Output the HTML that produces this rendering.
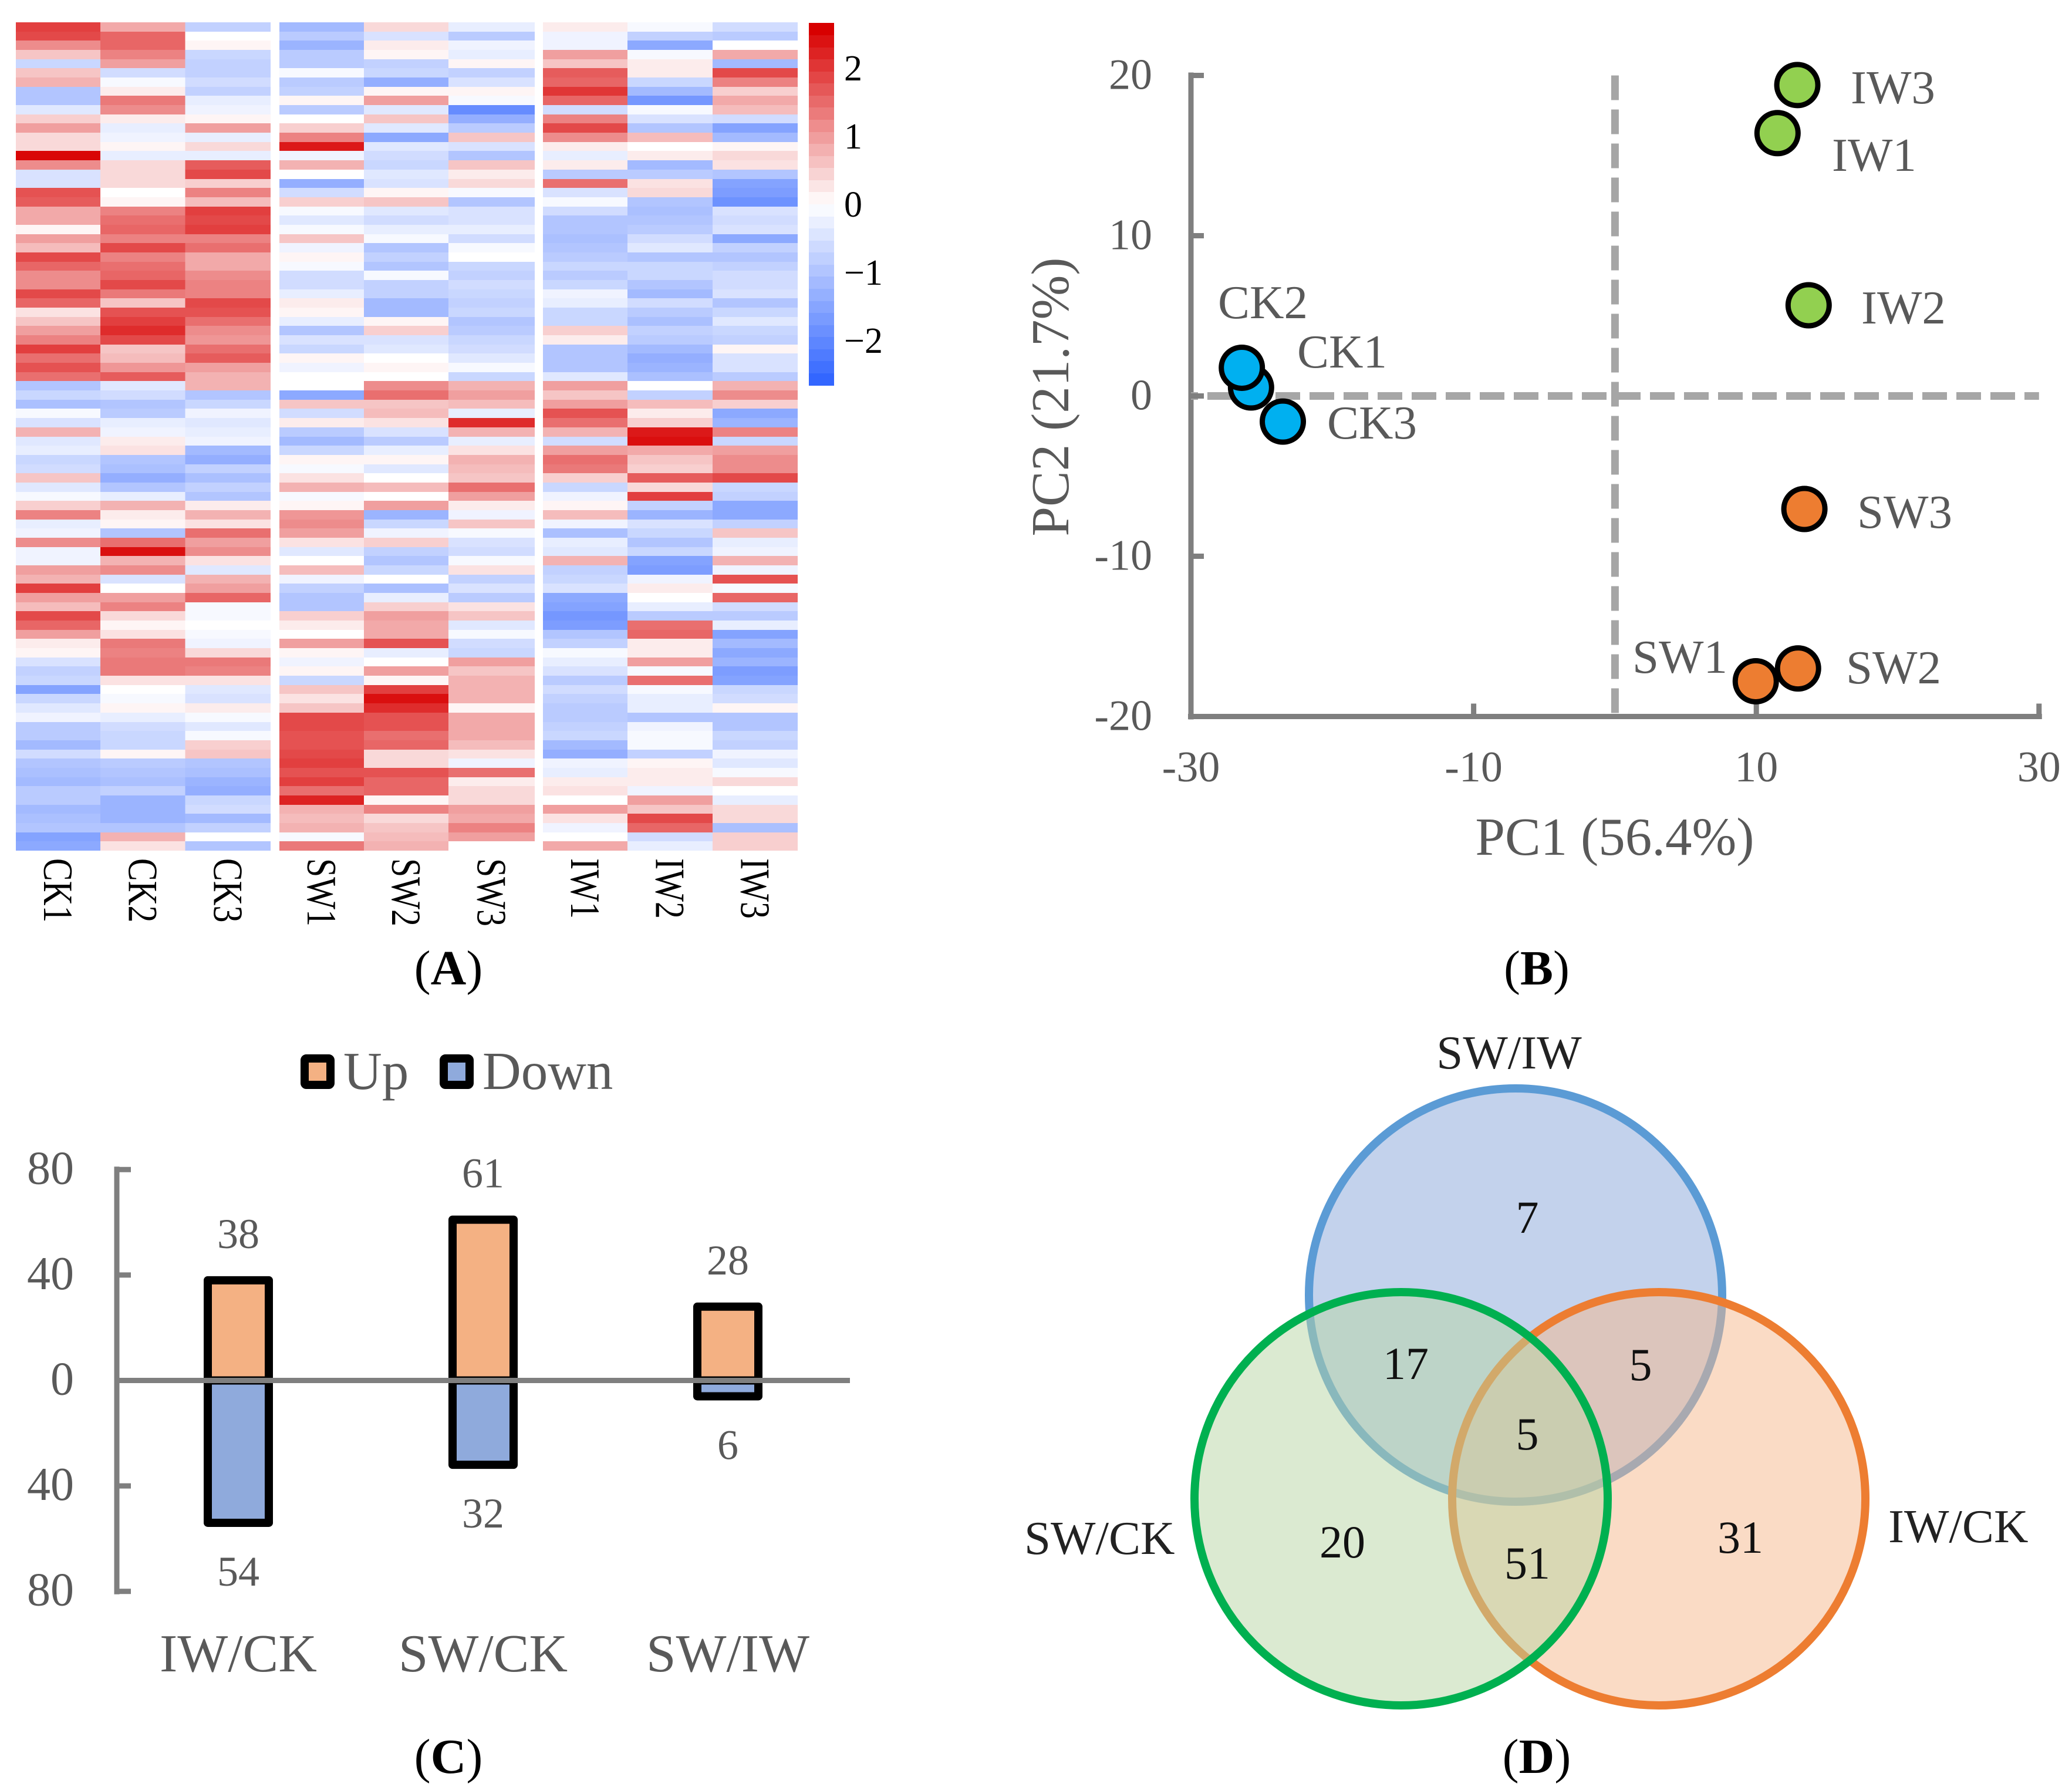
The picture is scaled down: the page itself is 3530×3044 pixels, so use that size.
<!DOCTYPE html>
<html lang="en">
<head>
<meta charset="utf-8">
<title>Multi-panel figure</title>
<style>
html,body{margin:0;padding:0;background:#fff;}
svg{display:block;font-family:"Liberation Serif",serif;}
</style>
</head>
<body>
<svg id="fig" xmlns="http://www.w3.org/2000/svg" width="3530" height="3044" viewBox="0 0 3530 3044">
<rect width="3530" height="3044" fill="#fff"/>
<g id="panelA"></g>
<text x="764" y="1677" font-size="84" text-anchor="middle" fill="#000">(<tspan font-weight="bold">A</tspan>)</text>

<g id="panelB"></g>
<g font-size="81" fill="#595959">
<text x="3153" y="176">IW3</text>
<text x="3121" y="291">IW1</text>
<text x="3171" y="551">IW2</text>
<text x="3164" y="899">SW3</text>
<text x="3145" y="1164">SW2</text>
<text x="2781" y="1146">SW1</text>
<text x="2075" y="542">CK2</text>
<text x="2210" y="626">CK1</text>
<text x="2261" y="747">CK3</text>
</g>
<text x="2751" y="1456" font-size="91" text-anchor="middle" fill="#595959">PC1 (56.4%)</text>
<text transform="translate(1820,676) rotate(-90)" font-size="91" text-anchor="middle" fill="#595959">PC2 (21.7%)</text>
<text x="2618" y="1677" font-size="84" text-anchor="middle" fill="#000">(<tspan font-weight="bold">B</tspan>)</text>

<g id="panelC"></g>
<g>
<rect x="519" y="1803" width="44" height="45" fill="#f4b183" stroke="#000" stroke-width="14" rx="3"/>
<text x="585" y="1855" font-size="91" fill="#595959">Up</text>
<rect x="756" y="1803" width="44" height="45" fill="#8faadc" stroke="#000" stroke-width="14" rx="3"/>
<text x="822" y="1855" font-size="91" fill="#595959">Down</text>
</g>
<text x="764" y="3020" font-size="84" text-anchor="middle" fill="#000">(<tspan font-weight="bold">C</tspan>)</text>

<g>
<circle cx="2582" cy="2206" r="352" fill="#c3d2ec" fill-opacity="1" stroke="#5b9bd5" stroke-width="14"/>
<circle cx="2826" cy="2553" r="352" fill="#f5b78b" fill-opacity="0.5" stroke="#ed7d31" stroke-width="14"/>
<circle cx="2387" cy="2553" r="352" fill="#b7d5a3" fill-opacity="0.5" stroke="#00b050" stroke-width="14"/>
<g font-size="78" text-anchor="middle" fill="#111">
<text x="2602" y="2100">7</text>
<text x="2395" y="2349">17</text>
<text x="2795" y="2351">5</text>
<text x="2602" y="2469">5</text>
<text x="2287" y="2653">20</text>
<text x="2602" y="2689">51</text>
<text x="2965" y="2645">31</text>
</g>
<text x="2571" y="1820" font-size="81" text-anchor="middle" fill="#222">SW/IW</text>
<text x="1745" y="2647" font-size="81" fill="#222">SW/CK</text>
<text x="3217" y="2627" font-size="81" fill="#222">IW/CK</text>
</g>
<text x="2618" y="3020" font-size="84" text-anchor="middle" fill="#000">(<tspan font-weight="bold">D</tspan>)</text>
</svg>

<script>
/* ---------- Panel A: heatmap data (one array per sample, top row first) ---------- */
const heatmapSamples = ['CK1','CK2','CK3','SW1','SW2','SW3','IW1','IW2','IW3'];
const heatCK1 = [2.0,1.9,1.2,.6,-.7,.6,.8,-1.0,-1.0,-.4,
 .5,1.0,.4,.4,2.6,1.2,-.5,-.5,1.8,1.7,
 .9,.9,.1,1.0,.7,1.9,1.6,1.2,1.2,1.9,
 1.6,.3,.6,1.0,1.3,2.0,1.5,1.8,1.5,-1.0,
 -.7,-1.1,-.1,-.5,.8,-.4,-.3,-.7,-.6,.6,
 -.4,-.1,.5,1.3,-.3,-.2,1.2,-.2,-.2,1.0,
 .8,2.0,1.0,.7,1.9,1.6,1.0,.2,.1,-.5,
 -.8,-.7,-1.6,-.7,-.4,-.2,-.9,-.9,-1.2,-.6,
 -1.0,-1.1,-1.2,-.9,-.9,-1.2,-1.1,-1.0,-1.6,-1.5];
const heatCK2 = [.9,1.6,1.6,1.3,1.0,-.6,-.1,.2,1.4,1.2,
 .2,-.3,-.2,.1,-.3,.4,.4,.4,.0,.1,
 1.3,1.5,1.6,1.3,1.9,1.3,1.5,1.6,1.9,1.4,
 .6,1.8,2.0,2.2,1.9,.6,.7,1.1,1.7,-.4,
 -.6,-1.0,-.9,-.3,-.2,.2,.3,-1.0,-1.1,-1.4,
 -1.0,-.3,.8,.2,.1,-1.0,1.5,2.5,.8,1.2,
 -.5,.0,1.0,1.3,.4,.1,.3,1.4,1.3,1.4,
 1.4,.3,.0,-.1,.1,-.3,-.6,-.7,-.7,.1,
 -.9,-1.0,-1.1,-.8,-1.3,-1.3,-1.3,-1.0,.8,.3];
const heatCK3 = [-.8,.0,.1,-.7,-.8,-.8,-.6,-.8,-.3,-.2,
 .1,1.0,-.3,.4,-.3,1.7,1.9,.5,1.3,.7,
 2.0,1.9,2.0,1.3,1.5,.9,.9,1.2,1.3,1.3,
 1.9,1.8,1.5,1.2,1.1,1.5,1.7,1.0,.8,.8,
 -1.0,-.7,-.2,-.4,-.3,-.2,-1.2,-1.4,-.8,-1.1,
 -.8,-1.0,.2,.8,.3,1.5,1.0,1.2,.3,-.4,
 .8,1.0,1.6,-.1,-.1,.0,-.1,-.2,.4,1.4,
 1.3,.3,-.4,-.5,.2,-.1,-.4,-.1,.5,.6,
 -1.0,-1.1,-1.3,-1.4,-.7,-.6,-1.2,-.8,.0,-1.0];
const heatSW1 = [-1.2,-.9,-1.3,-.9,-.9,-.1,-.9,-.8,.1,-.9,
 .0,.5,1.3,2.4,-.2,.8,.0,-1.4,-.6,.5,
 -.1,-.4,-.1,.6,-.2,.1,-.1,-.6,-.6,-.3,
 .2,.1,-.3,-1.0,-.5,-.7,.1,-.2,.0,.0,
 -1.5,.6,-.6,.2,-.9,-1.2,-.7,.1,-.1,.3,
 .8,-.1,.1,1.1,1.2,1.0,.3,-.4,.0,.7,
 -.2,-.8,-1.0,-1.0,.5,.2,.0,1.0,.1,-.2,
 .1,-.7,.6,.3,.6,1.9,1.9,1.8,1.8,1.9,
 2.0,1.8,2.0,1.5,2.3,.8,.7,.8,-.1,1.4];
const heatSW2 = [.4,-.5,.2,.1,-.8,-.7,-1.4,.1,1.0,-.4,
 .6,-.4,-1.5,-.4,-.6,-.7,-.4,-.5,.1,.6,
 -.4,-.6,-.3,-.1,-1.0,-.8,-1.0,-.1,-.8,-.8,
 -1.2,-1.2,.1,.5,-.5,-.4,.0,.1,.0,1.2,
 1.5,.6,.7,.3,-.5,-.9,-.3,.1,-.4,.0,
 .7,.0,1.0,-1.3,-.7,-.2,.5,-.8,-1.0,-.7,
 .0,-1.1,-.3,.5,1.0,.9,.9,1.8,-.3,.0,
 1.0,.1,2.0,2.5,2.2,1.8,1.8,1.5,1.6,.4,
 .4,1.8,1.6,1.6,.1,1.3,.4,.6,.7,.8];
const heatSW3 = [-.3,-.9,-.2,-.3,.1,-.8,-.5,.1,-.1,-2.0,
 -1.4,-.9,.6,-.5,-1.0,.6,.2,.4,-.1,-1.0,
 -.5,-.5,-.3,-.6,-.1,.0,-.7,-.8,-.6,-.7,
 -.8,-.7,-1.0,-.9,-.7,-.6,-.4,-.1,-.7,.8,
 1.0,.7,-.3,2.2,.8,-.3,.3,.8,.7,.6,
 1.5,1.0,.2,-.2,.6,-.1,-.5,-.6,-.1,.3,
 -.8,-.5,-.9,.3,.6,-.4,-.1,-.6,-.7,1.0,
 .6,.8,.8,.8,.1,.9,.9,.9,.7,.3,
 -.2,1.5,.2,.4,.4,1.0,.9,1.3,1.0,.0];
const heatIW1 = [.2,-.2,-.2,1.0,.6,1.7,1.6,2.1,1.6,-.6,
 1.3,1.9,1.2,.2,-.3,.2,-.9,1.5,-.5,-.1,
 -.6,-1.0,-1.0,-1.1,-1.0,-.9,-.7,-.9,-.7,-.2,
 -.3,-.7,-.7,.5,.2,-1.0,-1.0,-1.0,-.4,1.0,
 .6,1.0,1.8,1.5,.8,-.6,1.0,1.5,1.4,.5,
 -.7,-.2,.1,.7,-.2,-1.1,-.3,-.4,.8,-.8,
 -.7,-.5,-1.5,-1.6,-1.8,-1.7,-1.0,-.8,-.1,-.3,
 -.5,-.9,-.6,-.8,-.9,-.9,-.8,-.7,-1.2,-1.4,
 -.2,-.3,.2,.3,.0,1.0,.3,-.2,.0,.9];
const heatIW2 = [-.1,-.8,-1.5,-.1,.2,.2,-.7,-1.2,-1.8,-.1,
 -.5,-1.0,.7,.0,.2,-1.2,-.9,.3,.4,-1.0,
 -1.1,-1.0,-.9,-.6,-.4,-1.0,-.7,-.7,-1.0,-1.2,
 -.6,-.9,-1.1,-.8,-.9,-1.2,-1.4,-1.3,-1.1,.0,
 -.8,.7,.2,.5,2.4,2.5,.9,.6,.5,1.7,
 .4,2.0,-.8,-1.3,-.5,-.7,-1.0,-.7,-1.6,-1.7,
 -.2,.2,.0,-.3,-.9,1.5,1.6,.2,.2,1.0,
 -.1,1.5,-.1,-.3,-.3,-1.0,-.2,-.1,-.1,-.8,
 .1,.2,.2,-.2,1.0,.6,1.9,1.6,-.6,-.3];
const heatIW3 = [-.6,-.9,.0,.9,-1.2,1.9,1.3,.5,.9,.7,
 -.6,-1.6,-1.2,.1,.4,.3,-1.0,-1.6,-1.7,-1.9,
 -.5,-.6,-.5,-1.5,-.8,-1.0,-.8,-.6,-.6,-.5,
 -1.0,-.7,-.4,-.7,-.8,.1,-.5,-.5,-.9,.8,
 1.2,.5,-1.5,-1.3,1.3,-.7,1.0,1.2,1.2,1.9,
 -.7,-.8,-1.5,-1.5,-.8,.6,-.3,-.2,.8,-.2,
 1.8,-.1,1.6,-.6,-.9,-.3,-1.6,-1.2,-1.5,-1.3,
 -1.7,-1.6,-.7,-.6,.1,-1.0,-1.0,-.7,-.8,-.2,
 -.4,-.1,.4,.0,-.3,.4,.4,-1.1,.5,.5];
const colorbarTicks = [2,1,0,-1,-2];
const colorbarMax = 2.66;
const colorbarSteps = 30;

/* ---------- Panel B: PCA data ---------- */
const pcaNames = ['CK1','CK2','CK3','SW1','SW2','SW3','IW1','IW2','IW3'];
const pc1Values = [-25.75,-26.4,-23.5,9.96,12.95,13.4,11.5,13.7,12.9];
const pc2Values = [0.53,1.76,-1.6,-17.8,-17.0,-7.05,16.4,5.66,19.4];
const pcaGroups = ['CK','CK','CK','SW','SW','SW','IW','IW','IW'];
const pc1Ticks = [-30,-10,10,30];
const pc2Ticks = [20,10,0,-10,-20];

/* ---------- Panel C: bar data ---------- */
const comparisons = ['IW/CK','SW/CK','SW/IW'];
const upCounts = [38,61,28];
const downCounts = [54,32,6];
const countTicks = [80,40,0,-40,-80];

const NS = 'http://www.w3.org/2000/svg';
function mk(parent, tag, attrs, text) {
  const el = document.createElementNS(NS, tag);
  for (const k in attrs) el.setAttribute(k, attrs[k]);
  if (text !== undefined) el.textContent = text;
  parent.appendChild(el);
  return el;
}

/* ---------- draw panel A ---------- */
(function () {
  const g = document.getElementById('panelA');
  const columnsX = [[27,171],[171,315.5],[315.5,461],[476,620],[620,764],[764,911],[925,1069],[1069,1214],[1214,1359]];
  const top = 38, bottom = 1449;
  const columns = [heatCK1,heatCK2,heatCK3,heatSW1,heatSW2,heatSW3,heatIW1,heatIW2,heatIW3];
  function color(v) {
    const t = Math.min(1, Math.abs(v) / colorbarMax);
    if (v >= 0) {
      return 'rgb(' + Math.round(255 - 39 * t) + ',' + Math.round(255 - 255 * t) + ',' + Math.round(255 - 255 * t) + ')';
    }
    return 'rgb(' + Math.round(255 - 204 * t) + ',' + Math.round(255 - 153 * t) + ',255)';
  }
  columns.forEach(function (vals, c) {
    const rowH = (bottom - top) / vals.length;
    vals.forEach(function (v, r) {
      const y0 = Math.round(top + r * rowH);
      const y1 = Math.round(top + (r + 1) * rowH);
      const cell = mk(g, 'rect', {x: columnsX[c][0], y: y0, width: columnsX[c][1] - columnsX[c][0], height: y1 - y0, fill: color(v), 'shape-rendering': 'crispEdges'});
      
      
    });
    const cx = (columnsX[c][0] + columnsX[c][1]) / 2;
    const lab = mk(g, 'text', {transform: 'translate(' + (cx - 24) + ',1462) rotate(90) scale(1,1.22)', 'font-size': 58, fill: '#000'}, heatmapSamples[c]);
    
    
  });
  const barY = function (v) { return 348 - v * 116; };
  for (let i = 0; i < colorbarSteps; i++) {
    const hi = colorbarMax - i * (2 * colorbarMax) / colorbarSteps;
    const lo = hi - (2 * colorbarMax) / colorbarSteps;
    const mid = colorbarMax - i * (2 * colorbarMax) / (colorbarSteps - 1);
    const seg = mk(g, 'rect', {x: 1378, y: Math.round(barY(hi)), width: 43, height: Math.round(barY(lo)) - Math.round(barY(hi)), fill: color(mid), 'shape-rendering': 'crispEdges'});
    
    
  }
  colorbarTicks.forEach(function (t) {
    const lab = mk(g, 'text', {x: 1438, y: barY(t) + 21, 'font-size': 62, fill: '#000'}, t < 0 ? '\u2212' + (-t) : String(t));
    
    
  });
})();

/* ---------- draw panel B ---------- */
(function () {
  const g = document.getElementById('panelB');
  const X = function (v) { return 2029 + (v + 30) * 24.08; };
  const Y = function (v) { return 674.5 - v * 27.3; };
  const axisColor = '#7f7f7f';
  const fills = {CK: '#00b0f0', SW: '#ed7d31', IW: '#92d050'};

  const vDash = mk(g, 'line', {x1: X(0), y1: Y(20), x2: X(0), y2: Y(-20), stroke: '#a6a6a6', 'stroke-width': 13, 'stroke-dasharray': '42 16'});
  
  
  const yAxis = mk(g, 'line', {x1: X(-30), y1: Y(20) - 5, x2: X(-30), y2: Y(-20) + 5, stroke: axisColor, 'stroke-width': 9});
  
  
  const xAxis = mk(g, 'line', {x1: X(-30) - 5, y1: Y(-20), x2: X(30) + 5, y2: Y(-20), stroke: axisColor, 'stroke-width': 9});
  
  
  const hDash = mk(g, 'line', {x1: X(-30), y1: Y(0), x2: X(30), y2: Y(0), stroke: '#a6a6a6', 'stroke-width': 13, 'stroke-dasharray': '42 16', 'stroke-dashoffset': 30});
  
  

  pc2Ticks.forEach(function (t) {
    const tick = mk(g, 'line', {x1: X(-30), y1: Y(t), x2: X(-30) + 22, y2: Y(t), stroke: axisColor, 'stroke-width': 9});
    
    
    const lab = mk(g, 'text', {x: 1963, y: Y(t) + 23, 'font-size': 74, 'text-anchor': 'end', fill: '#595959'}, String(t));
    
    
  });
  pc1Ticks.forEach(function (t) {
    const tick = mk(g, 'line', {x1: X(t), y1: Y(-20), x2: X(t), y2: Y(-20) - 22, stroke: axisColor, 'stroke-width': 9});
    
    
    const lab = mk(g, 'text', {x: X(t), y: 1331, 'font-size': 74, 'text-anchor': 'middle', fill: '#595959'}, String(t));
    
    
  });
  pcaNames.forEach(function (n, i) {
    const pt = mk(g, 'circle', {cx: X(pc1Values[i]), cy: Y(pc2Values[i]), r: 35, fill: fills[pcaGroups[i]], stroke: '#000', 'stroke-width': 9});
    
    
  });
})();

/* ---------- draw panel C ---------- */
(function () {
  const g = document.getElementById('panelC');
  const Y = function (v) { return 2351.5 - v * 4.49; };
  const X = function (i) { return 406 + i * 417; };
  const axisColor = '#7f7f7f';
  const barW = 104;
  comparisons.forEach(function (name, i) {
    const up = mk(g, 'rect', {x: X(i) - barW / 2, y: Y(upCounts[i]), width: barW, height: Y(0) - Y(upCounts[i]), fill: '#f4b183', stroke: '#000', 'stroke-width': 14, 'stroke-linejoin': 'round'});
    
    
    const down = mk(g, 'rect', {x: X(i) - barW / 2, y: Y(0), width: barW, height: Y(-downCounts[i]) - Y(0), fill: '#8faadc', stroke: '#000', 'stroke-width': 14, 'stroke-linejoin': 'round'});
    
    
    const upLab = mk(g, 'text', {x: X(i), y: Y(upCounts[i]) - 55, 'font-size': 72, 'text-anchor': 'middle', fill: '#595959'}, String(upCounts[i]));
    
    
    const downLab = mk(g, 'text', {x: X(i), y: Y(-downCounts[i]) + 107, 'font-size': 72, 'text-anchor': 'middle', fill: '#595959'}, String(downCounts[i]));
    
    
    const cat = mk(g, 'text', {x: X(i), y: 2847, 'font-size': 91, 'text-anchor': 'middle', fill: '#595959'}, name);
    
    
  });
  const yAxis = mk(g, 'line', {x1: 199, y1: Y(80) - 5, x2: 199, y2: Y(-80) + 5, stroke: axisColor, 'stroke-width': 9});
  
  
  const zero = mk(g, 'line', {x1: 199, y1: Y(0), x2: 1448, y2: Y(0), stroke: axisColor, 'stroke-width': 9});
  
  
  countTicks.forEach(function (t) {
    const tick = mk(g, 'line', {x1: 199, y1: Y(t), x2: 223, y2: Y(t), stroke: axisColor, 'stroke-width': 9});
    
    
    const lab = mk(g, 'text', {x: 126, y: Y(t) + 24, 'font-size': 80, 'text-anchor': 'end', fill: '#595959'}, String(Math.abs(t)));
    
    
  });
})();
</script>
</body>
</html>
